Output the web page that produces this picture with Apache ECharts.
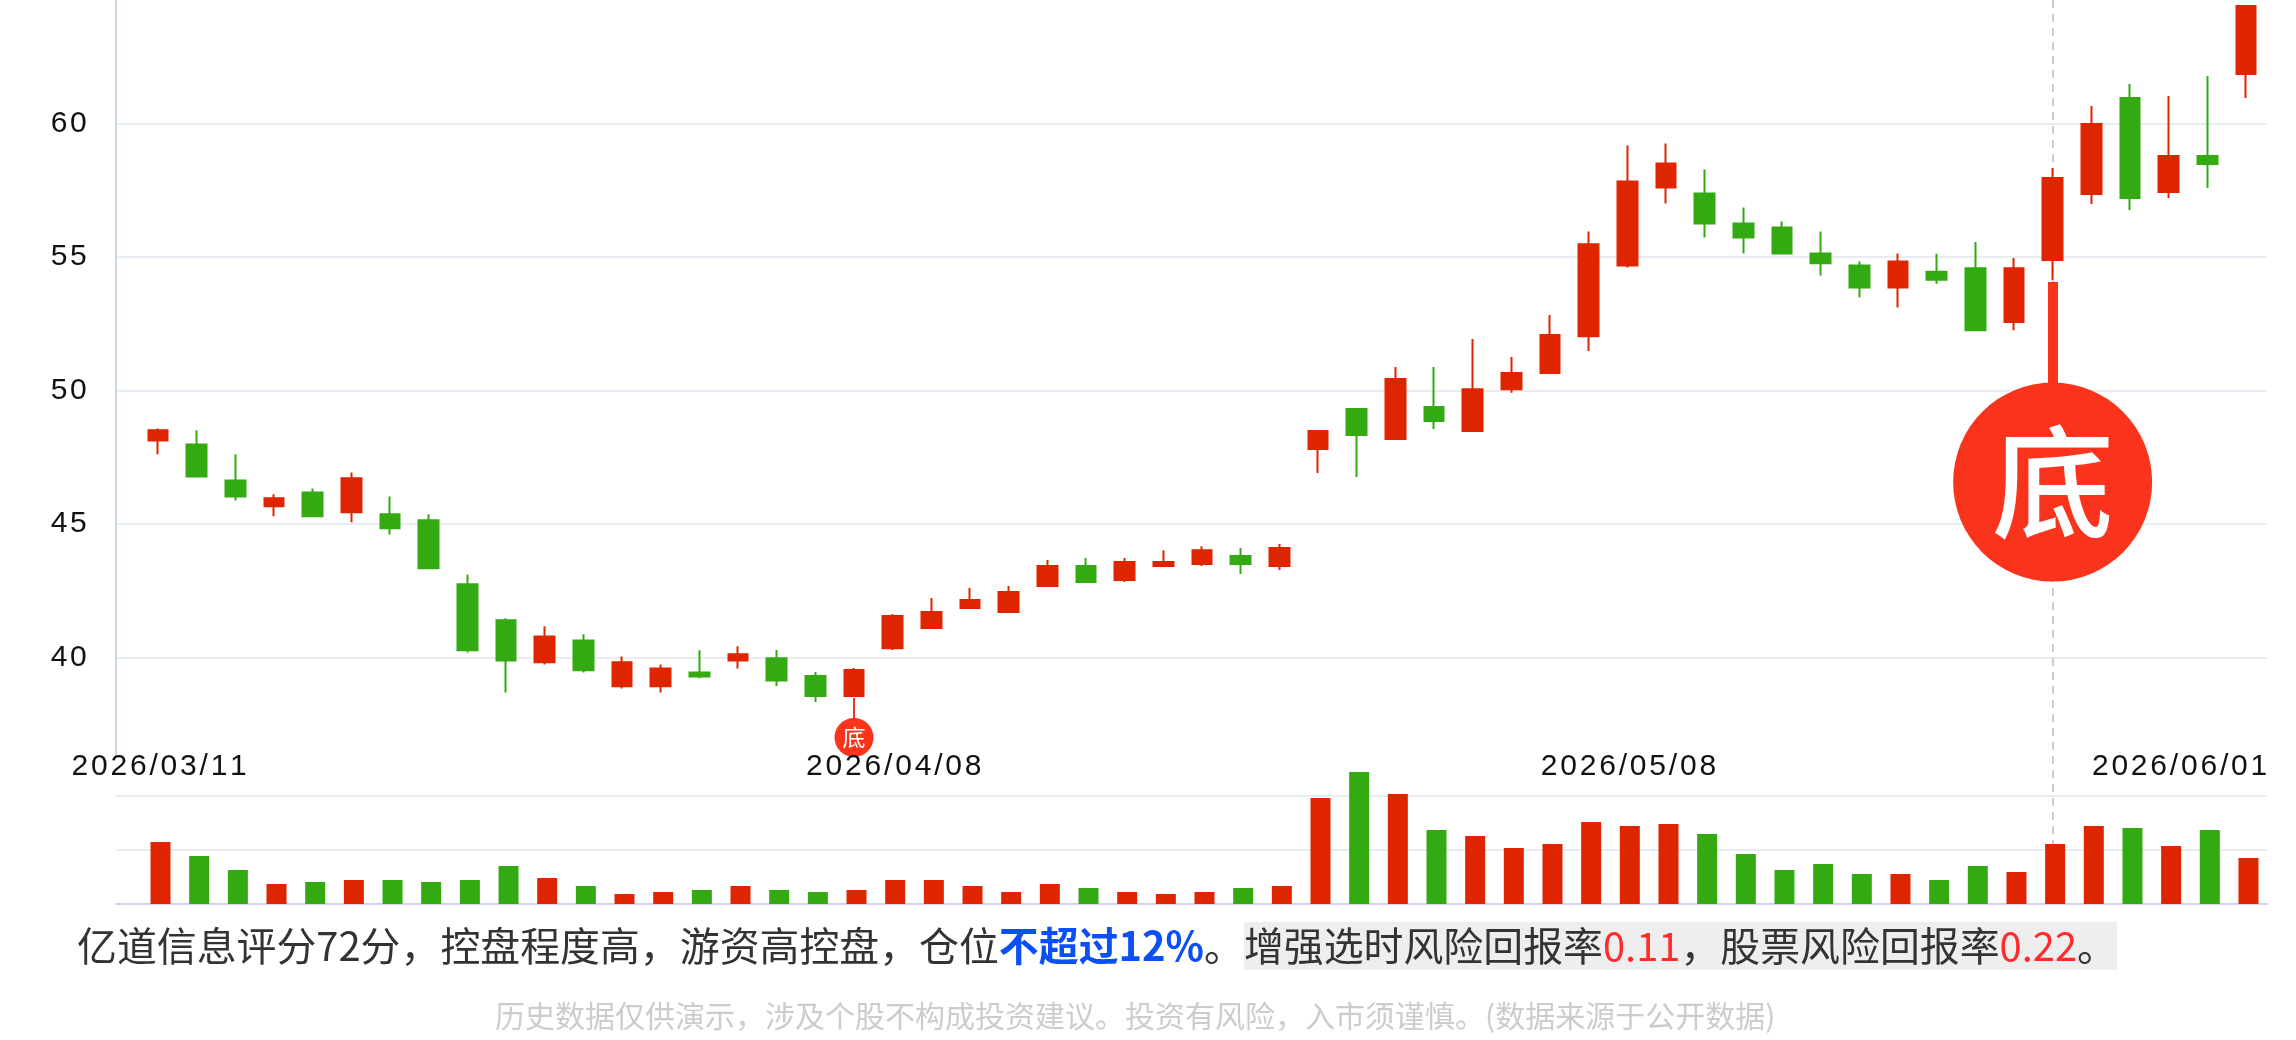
<!DOCTYPE html>
<html>
<head>
<meta charset="utf-8">
<style>
  html, body { margin: 0; padding: 0; background: #fff; }
  #chart { width: 2296px; height: 1040px; }
</style>
<script src="https://cdn.jsdelivr.net/npm/echarts@6/dist/echarts.min.js"></script>
</head>
<body>
<div id="chart"></div>
<script>
var dates = ['2026/03/11','2026/03/12','2026/03/13','2026/03/16','2026/03/17','2026/03/18','2026/03/19','2026/03/20','2026/03/23','2026/03/24','2026/03/25','2026/03/26','2026/03/27','2026/03/30','2026/03/31','2026/04/01','2026/04/02','2026/04/03','2026/04/07','2026/04/08','2026/04/09','2026/04/10','2026/04/13','2026/04/14','2026/04/15','2026/04/16','2026/04/17','2026/04/20','2026/04/21','2026/04/22','2026/04/23','2026/04/24','2026/04/27','2026/04/28','2026/04/29','2026/04/30','2026/05/06','2026/05/07','2026/05/08','2026/05/11','2026/05/12','2026/05/13','2026/05/14','2026/05/15','2026/05/18','2026/05/19','2026/05/20','2026/05/21','2026/05/22','2026/05/25','2026/05/26','2026/05/27','2026/05/28','2026/05/29','2026/06/01'];
var opens = [48.15,48.0,46.65,45.68,46.2,45.46,45.38,45.16,42.76,41.41,39.84,40.66,38.94,38.94,39.46,39.91,39.99,39.33,38.58,40.37,41.12,41.87,41.72,42.7,43.45,42.92,43.45,43.52,43.82,43.45,47.83,49.33,48.2,49.4,48.5,50.07,50.67,52.05,54.7,57.62,57.4,56.27,56.12,55.15,54.7,53.88,54.47,54.6,52.58,54.91,57.38,60.97,57.45,58.8,61.87];
var closes = [48.53,46.8,46.05,45.98,45.31,46.73,44.86,43.36,40.29,39.91,40.81,39.54,39.84,39.61,39.31,40.14,39.16,38.58,39.55,41.57,41.72,42.17,42.47,43.45,42.85,43.6,43.6,44.04,43.52,44.12,48.5,48.35,50.45,48.88,50.07,50.67,52.1,55.5,57.85,58.52,56.27,55.75,55.15,54.78,53.88,54.85,54.17,52.28,54.6,57.98,60,57.23,58.8,58.5,64.42];
var lows = [47.63,46.8,45.9,45.31,45.31,45.08,44.63,43.36,40.21,38.71,39.76,39.46,38.86,38.71,39.24,39.61,38.95,38.35,38.58,40.3,41.12,41.87,41.72,42.7,42.85,42.85,43.45,43.45,43.15,43.3,46.93,46.78,48.2,48.58,48.5,49.93,50.67,51.5,54.63,57.02,55.75,55.15,55.15,54.33,53.5,53.13,54.02,52.28,52.28,54.16,57,56.78,57.23,57.6,60.97];
var highs = [48.6,48.53,47.63,46.13,46.35,46.95,46.05,45.38,43.13,41.49,41.19,40.89,40.06,39.76,40.29,40.44,40.3,39.48,39.63,41.65,42.25,42.62,42.7,43.67,43.75,43.75,44.04,44.19,44.12,44.27,48.5,49.33,50.9,50.9,51.95,51.27,52.85,55.97,59.19,59.27,58.3,56.87,56.35,55.97,54.85,55.15,55.14,55.58,54.98,58.35,60.67,61.5,61.05,61.8,64.42];
var volumes = [11.48,8.89,6.3,3.7,4.07,4.44,4.44,4.07,4.44,7.04,4.81,3.33,1.85,2.22,2.59,3.33,2.59,2.22,2.59,4.44,4.44,3.33,2.22,3.7,2.96,2.22,1.85,2.22,2.96,3.33,19.63,24.44,20.37,13.7,12.59,10.37,11.11,15.19,14.44,14.81,12.96,9.26,6.3,7.41,5.56,5.56,4.44,7.04,5.93,11.11,14.44,14.07,10.74,13.7,8.52];
var priceTicks = [40, 45, 50, 55, 60];
var labelDates = ['2026/03/11', '2026/04/08', '2026/05/08', '2026/06/01'];
var lastDate = '2026/06/01';
var pinSmall = { date: '2026/04/07', from: 38.5, at: 37.02 };
var pinBig = { date: '2026/05/25', from: 54.08, at: 46.59 };

var RED = '#DE2500', GREEN = '#33AA11', PIN = '#FA341C';
var GRID_COLOR = '#E8EDF3', AXIS_COLOR = '#CCD6EB';
var CJK = '"Noto Sans CJK SC", "Noto Sans", sans-serif';
var LATIN = '"Liberation Sans", "Noto Sans CJK SC", sans-serif';

// echarts has no letter spacing, so every char gets its own rich token
function spaced(text) {
  return text.split('').map(function (c) { return '{n|' + c + '}'; }).join('');
}

var candleData = dates.map(function (d, i) {
  return [opens[i], closes[i], lows[i], highs[i]];
});
var volumeData = volumes.map(function (v, i) {
  return { value: v, itemStyle: { color: closes[i] >= opens[i] ? RED : GREEN } };
});

var chart = echarts.init(document.getElementById('chart'));

var option = {
  animation: false,
  backgroundColor: '#fff',
  title: [
    {
      left: 77, top: 922, padding: 0,
      text: '{a|亿道信息评分72分，控盘程度高，游资高控盘，仓位}{b|不超过12%}{a|。}{g|增强选时风险回报率}{h|0.11}{g|，股票风险回报率}{h|0.22}{g|。}',
      textStyle: {
        fontWeight: 'normal',
        rich: {
          a: { fontFamily: CJK, fontSize: 39.9, fontWeight: 'normal', color: '#333', lineHeight: 48, height: 48 },
          b: { fontFamily: CJK, fontSize: 39.9, fontWeight: 'bold', color: '#0B50F5', lineHeight: 48, height: 48 },
          g: { fontFamily: CJK, fontSize: 39.9, fontWeight: 'normal', color: '#333', lineHeight: 48, height: 48, backgroundColor: '#EEEEEE' },
          h: { fontFamily: CJK, fontSize: 39.9, fontWeight: 'normal', color: '#FF2A2A', lineHeight: 48, height: 48, backgroundColor: '#EEEEEE' }
        }
      }
    },
    {
      left: 495, top: 998, padding: 0,
      text: '历史数据仅供演示，涉及个股不构成投资建议。投资有风险，入市须谨慎。(数据来源于公开数据)',
      textStyle: { fontFamily: CJK, fontSize: 30, fontWeight: 'normal', color: '#CCCCCC', lineHeight: 36 }
    }
  ],
  grid: [
    { left: 116, width: 2151, top: -0.7, height: 757, outerBoundsMode: 'none' },     // price gridlines
    { left: 138.7, width: 2126.6, top: 0, height: 904, outerBoundsMode: 'none' },    // candles
    { left: 116, width: 2151, top: 796, height: 108, outerBoundsMode: 'none' },      // volume gridlines
    { left: 141.2, width: 2126.6, top: 796, height: 108, outerBoundsMode: 'none' }   // volume bars
  ],
  xAxis: [
    { gridIndex: 0, type: 'value', min: 0, max: 1, show: false, splitLine: { show: false } },
    {
      gridIndex: 1, type: 'category', data: dates, show: false,
      axisLine: { show: false }, axisTick: { show: false }, axisLabel: { show: false }
    },
    {
      gridIndex: 2, type: 'value', min: 0, max: 1,
      axisLine: { show: true, onZero: false, lineStyle: { color: AXIS_COLOR, width: 2 } },
      axisTick: { show: false }, axisLabel: { show: false }, splitLine: { show: false }
    },
    {
      gridIndex: 3, type: 'category', data: dates, position: 'top', z: 10,
      axisLine: { show: false }, axisTick: { show: false },
      axisLabel: {
        margin: 14,
        hideOverlap: false,
        interval: function (i, v) { return labelDates.indexOf(v) >= 0; },
        formatter: function (v) { return v === lastDate ? spaced(v) + '{s| }' : spaced(v); },
        rich: {
          n: { fontFamily: LATIN, fontSize: 30, color: '#111', padding: [0, 2.8, 0, 0] },
          s: { width: 135, fontSize: 30 }
        }
      }
    }
  ],
  yAxis: [
    {
      gridIndex: 0, type: 'value', min: 36.292, max: 64.644,
      axisLine: { show: true, lineStyle: { color: AXIS_COLOR, width: 2 } },
      axisTick: { show: false, customValues: priceTicks },
      axisLabel: {
        customValues: priceTicks,
        margin: 27,
        formatter: function (v) { return spaced(String(v)); },
        rich: { n: { fontFamily: LATIN, fontSize: 30, color: '#111', padding: [0, 2.4, 0, 0] } }
      },
      splitLine: { show: true, customValues: priceTicks, lineStyle: { color: GRID_COLOR, width: 2 } }
    },
    { gridIndex: 1, type: 'value', min: 30.787, max: 64.644, show: false, splitLine: { show: false } },
    {
      gridIndex: 2, type: 'value', min: 0, max: 20, interval: 10,
      axisLine: { show: false }, axisTick: { show: false }, axisLabel: { show: false },
      splitLine: { show: true, lineStyle: { color: GRID_COLOR, width: 2 } }
    },
    { gridIndex: 3, type: 'value', min: 0, max: 20, show: false, splitLine: { show: false } }
  ],
  series: [
    {
      name: 'K线', type: 'candlestick', xAxisIndex: 1, yAxisIndex: 1, z: 3,
      barWidth: 20, data: candleData,
      itemStyle: { color: RED, color0: GREEN, borderColor: RED, borderColor0: GREEN, borderWidth: 2 },
      markLine: {
        silent: true, symbol: 'none', z: 3, label: { show: false }, animation: false,
        data: [
          [
            { coord: [pinSmall.date, pinSmall.from], lineStyle: { color: PIN, width: 2, type: 'solid' } },
            { coord: [pinSmall.date, pinSmall.at] }
          ],
          [
            { coord: [pinBig.date, pinBig.from], lineStyle: { color: PIN, width: 10, type: 'solid' } },
            { coord: [pinBig.date, pinBig.at] }
          ]
        ]
      }
    },
    {
      name: '底', type: 'scatter', xAxisIndex: 1, yAxisIndex: 1, z: 4, silent: true,
      data: [
        {
          value: [pinSmall.date, pinSmall.at], symbolSize: 39, itemStyle: { color: PIN, opacity: 1 },
          label: { show: true, position: 'inside', formatter: '底', color: '#fff', fontFamily: CJK, fontSize: 23 }
        },
        {
          value: [pinBig.date, pinBig.at], symbolSize: 199, itemStyle: { color: PIN, opacity: 1 },
          label: { show: true, position: 'inside', formatter: '底', color: '#fff', fontFamily: CJK, fontWeight: 500, fontSize: 122 }
        }
      ],
      markLine: {
        silent: true, symbol: 'none', z: 1, label: { show: false }, animation: false,
        lineStyle: { color: '#CCCCCC', width: 2, type: [8, 6] },
        data: [{ xAxis: pinBig.date }]
      }
    },
    {
      name: '成交量', type: 'bar', xAxisIndex: 3, yAxisIndex: 3, z: 3,
      barWidth: 20, clip: false, data: volumeData
    }
  ]
};

chart.setOption(option);
</script>
</body>
</html>
